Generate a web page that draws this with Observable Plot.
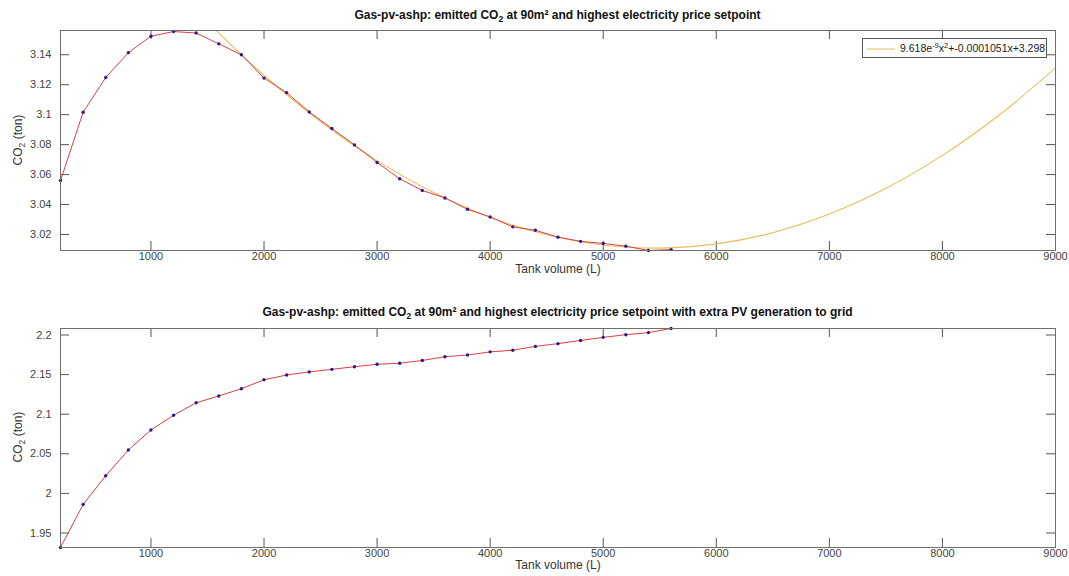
<!DOCTYPE html>
<html><head><meta charset="utf-8">
<script src="https://cdn.jsdelivr.net/npm/d3@7"></script>
<script src="https://cdn.jsdelivr.net/npm/@observablehq/plot@0.6"></script>
<style>
body{margin:0;background:#fff;font-family:Arial,"Liberation Sans",Helvetica,sans-serif;}
#wrap{position:relative;width:1069px;height:576px;overflow:hidden;}
.panel{position:absolute;left:0;}
.title{position:absolute;left:60px;width:995px;text-align:center;font-weight:bold;font-size:12px;line-height:12px;color:#111;white-space:nowrap;}
.title sub,.ylab sub{font-size:8.5px;vertical-align:-3px;line-height:0;}
.ylab{position:absolute;font-size:12px;line-height:12px;color:#333;white-space:nowrap;transform:translate(-50%,-50%) rotate(-90deg);}
.legend{position:absolute;left:862px;top:38px;width:183px;height:18px;border:1px solid #555;background:#fff;font-size:10.5px;line-height:18px;color:#222;white-space:nowrap;}
.legend svg{position:absolute;left:3px;top:9px;}
.legend span{position:absolute;left:37px;top:0;}
.legend sup{font-size:7.5px;vertical-align:4px;line-height:0;}
</style>
</head><body>
<div id="wrap">
  <div class="panel" id="p1" style="top:0"></div>
  <div class="panel" id="p2" style="top:290px"></div>
  <div class="title" style="top:9px">Gas-pv-ashp: emitted CO<sub>2</sub> at 90m² and highest electricity price setpoint</div>
  <div class="title" style="top:306px">Gas-pv-ashp: emitted CO<sub>2</sub> at 90m² and highest electricity price setpoint with extra PV generation to grid</div>
  <div class="ylab" style="left:18px;top:140px">CO<sub>2</sub> (ton)</div>
  <div class="ylab" style="left:18px;top:437px">CO<sub>2</sub> (ton)</div>
  <div class="legend"><svg width="30" height="2"><line x1="1" y1="1" x2="29" y2="1" stroke="#e6be5c" stroke-width="1"/></svg><span>9.618e<sup>-9</sup>x<sup>2</sup>+-0.0001051x+3.298</span></div>
</div>
<script>
// Tank volumes (L)
const tankVolume = [200,400,600,800,1000,1200,1400,1600,1800,2000,2200,2400,2600,2800,3000,3200,3400,3600,3800,4000,4200,4400,4600,4800,5000,5200,5400,5600];
// Emitted CO2 (ton), top panel
const co2Base = [3.0560,3.1016,3.1248,3.1414,3.1524,3.1555,3.1545,3.1473,3.1400,3.1244,3.1147,3.1018,3.0908,3.0798,3.0681,3.0572,3.0494,3.0444,3.0368,3.0317,3.0251,3.0228,3.0182,3.0154,3.0140,3.0122,3.0093,3.0099];
// Emitted CO2 (ton), bottom panel (extra PV to grid)
const co2Grid = [1.9317,1.9861,2.0222,2.0548,2.0801,2.0987,2.1144,2.1230,2.1322,2.1434,2.1495,2.1534,2.1566,2.1600,2.1630,2.1644,2.1678,2.1726,2.1747,2.1787,2.1808,2.1856,2.1891,2.1931,2.1970,2.2004,2.2030,2.2082];
// Quadratic fit curve, read at these volumes
const fitVolume = [1000,1500,2000,2500,3000,3500,4000,4500,5000,5500,6000,6500,7000,7500,8000,8500,9000];
const fitCo2 = [3.2025,3.1620,3.1263,3.0954,3.0693,3.0480,3.0315,3.0198,3.0130,3.0109,3.0137,3.0212,3.0336,3.0508,3.0728,3.0996,3.1312];
// Tick labels
const xTicks = [1000,2000,3000,4000,5000,6000,7000,8000,9000];
const yTicksTop = [3.02,3.04,3.06,3.08,3.1,3.12,3.14];
const yTicksBottom = [1.95,2,2.05,2.1,2.15,2.2];

const W = 1069, ML = 60, MR = 14, TICK = 9;

function panel({values, fit, yDomain, yTicks, height, marginTop, marginBottom, xLabelDy}) {
  const innerH = height - marginTop - marginBottom;
  const innerW = W - ML - MR;
  const pts = tankVolume.map((x, i) => ({x, y: values[i]}));
  const marks = [
    Plot.tickX(xTicks, {x: d => d, stroke: "#555", strokeWidth: 1, insetTop: innerH - TICK}),
    Plot.tickX(xTicks, {x: d => d, stroke: "#555", strokeWidth: 1, insetBottom: innerH - TICK}),
    Plot.tickY(yTicks, {y: d => d, stroke: "#555", strokeWidth: 1, insetRight: innerW - TICK}),
    Plot.tickY(yTicks, {y: d => d, stroke: "#555", strokeWidth: 1, insetLeft: innerW - TICK}),
    Plot.axisX(xTicks, {tickSize: 0, tickPadding: 1.5, tickFormat: d => String(d), label: null, fontSize: 11}),
    Plot.axisY(yTicks, {tickSize: 0, tickPadding: 9, tickFormat: d => String(d), label: null, fontSize: 11}),
    Plot.text(["Tank volume (L)"], {frameAnchor: "bottom", dy: xLabelDy, text: d => d, fontSize: 12, fill: "#333"})
  ];
  if (fit) {
    const fpts = fitVolume.map((x, i) => ({x, y: fitCo2[i]}));
    marks.push(Plot.line(fpts, {x: "x", y: "y", stroke: "#e6be5c", strokeWidth: 1.1, curve: "catmull-rom", clip: true}));
  }
  marks.push(Plot.line(pts, {x: "x", y: "y", stroke: "#dc3f44", strokeWidth: 1, clip: true}));
  marks.push(Plot.dot(pts, {x: "x", y: "y", r: 1.7, fill: "#2a1a8c", stroke: null}));
  marks.push(Plot.frame({stroke: "#6e6e6e", strokeWidth: 1}));
  return Plot.plot({
    width: W, height, marginLeft: ML, marginRight: MR, marginTop, marginBottom,
    x: {domain: [200, 9000]},
    y: {domain: yDomain},
    style: {fontFamily: "Arial, 'Liberation Sans', sans-serif", fontSize: "11px", color: "#444", background: "transparent", overflow: "visible"},
    marks
  });
}

document.getElementById("p1").append(panel({
  values: co2Base, fit: true, yDomain: [3.0093, 3.1562], yTicks: yTicksTop,
  height: 290, marginTop: 30, marginBottom: 40, xLabelDy: 22
}));
document.getElementById("p2").append(panel({
  values: co2Grid, fit: false, yDomain: d3.extent(co2Grid), yTicks: yTicksBottom,
  height: 286, marginTop: 38, marginBottom: 29, xLabelDy: 21
}));
</script>
</body></html>
